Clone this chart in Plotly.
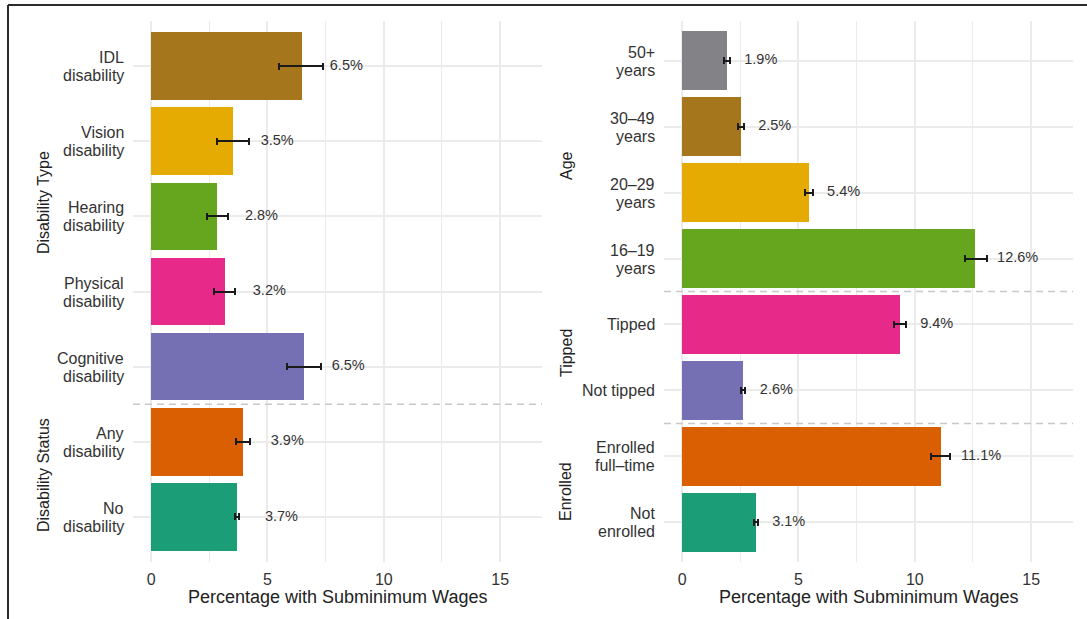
import plotly.graph_objects as go

# ---------------- data ----------------
left_cats = ["IDL<br>disability", "Vision<br>disability", "Hearing<br>disability",
             "Physical<br>disability", "Cognitive<br>disability",
             "Any<br>disability", "No<br>disability"]
left_vals = [6.49, 3.52, 2.84, 3.18, 6.57, 3.95, 3.70]
left_lo = [5.50, 2.84, 2.41, 2.71, 5.84, 3.65, 3.61]
left_hi = [7.39, 4.21, 3.31, 3.61, 7.31, 4.25, 3.79]
left_labels = ["6.5%", "3.5%", "2.8%", "3.2%", "6.5%", "3.9%", "3.7%"]
left_colors = ["#A6761D", "#E6AB02", "#66A61E", "#E7298A", "#7570B3", "#D95F02", "#1B9E77"]

right_cats = ["50+<br>years", "30\u201349<br>years", "20\u201329<br>years", "16\u201319<br>years",
              "Tipped", "Not tipped", "Enrolled<br>full\u2013time", "Not<br>enrolled"]
right_vals = [1.93, 2.53, 5.44, 12.60, 9.36, 2.62, 11.12, 3.18]
right_lo = [1.82, 2.42, 5.28, 12.17, 9.11, 2.55, 10.71, 3.08]
right_hi = [2.05, 2.65, 5.61, 13.09, 9.61, 2.72, 11.52, 3.25]
right_labels = ["1.9%", "2.5%", "5.4%", "12.6%", "9.4%", "2.6%", "11.1%", "3.1%"]
right_colors = ["#838387", "#A6761D", "#E6AB02", "#66A61E", "#E7298A", "#7570B3", "#D95F02", "#1B9E77"]

x_ticks = [0, 5, 10, 15]
x_title = "Percentage with Subminimum Wages"
left_groups = [("Disability Type", 0.672), ("Disability Status", 0.2326)]
right_groups = [("Age", 0.7318), ("Tipped", 0.4297), ("Enrolled", 0.2052)]
left_dividers = [4.5]
right_dividers = [3.5, 5.5]

# ---------------- layout constants ----------------
W, H = 1087, 619
FONT = "Liberation Sans, Arial, Helvetica, sans-serif"
GRID = "#EBEBEB"
TXT = "#333333"


def px_x(p):
    return p / W


def px_y(p):
    return 1 - p / H


fig = go.Figure()

panels = [
    (left_cats, left_vals, left_lo, left_hi, left_labels, left_colors, "x", "y", "left", 133),
    (right_cats, right_vals, right_lo, right_hi, right_labels, right_colors, "x2", "y2", "right", 664),
]
annotations = []
for cats, vals, lo, hi, labs, cols, xa, ya, side, plot_left in panels:
    fig.add_trace(go.Bar(
        x=vals, y=cats, orientation="h", width=0.9,
        marker=dict(color=cols, line=dict(width=0)),
        error_x=dict(type="data", symmetric=False,
                     array=[h - v for h, v in zip(hi, vals)],
                     arrayminus=[v - l for v, l in zip(vals, lo)],
                     color="#1a1a1a", thickness=2, width=3.5),
        xaxis=xa, yaxis=ya, showlegend=False, hoverinfo="skip"))
    if side == "left":
        lx = [v + 1.9 for v in vals]
    else:
        lx = [h + 1.33 for h in hi]
    fig.add_trace(go.Scatter(
        x=lx, y=cats, mode="text", text=labs,
        textfont=dict(family=FONT, size=14.5, color=TXT),
        textposition="middle center", cliponaxis=False,
        xaxis=xa, yaxis=ya, showlegend=False, hoverinfo="skip"))
    # category tick labels with tighter line spacing
    for i, c in enumerate(cats):
        lines = c.split("<br>")
        shifts = [0] if len(lines) == 1 else [8.5, -9.5]
        for ln, sh in zip(lines, shifts):
            annotations.append(dict(text=ln, xref="paper", x=px_x(plot_left - 8), yref=ya, y=i,
                                    yshift=sh, xanchor="right", yanchor="middle", showarrow=False,
                                    borderpad=0, font=dict(family=FONT, size=16, color=TXT)))

xrange = [-0.78, 16.8]
common_x = dict(range=xrange, tickvals=x_ticks, showgrid=True, gridcolor=GRID, gridwidth=1.6,
                zeroline=False, showline=False, ticks="", ticklabelstandoff=6,
                tickfont=dict(family=FONT, size=16, color=TXT),
                minor=dict(tickvals=[2.5, 7.5, 12.5], showgrid=True, gridcolor=GRID, gridwidth=1.2, ticks=""))
common_y = dict(type="category", showgrid=True, gridcolor=GRID, gridwidth=1.6,
                zeroline=False, showline=False, ticks="", showticklabels=False)

ytop, ybot = px_y(21), px_y(562)
fig.update_layout(
    width=W, height=H, margin=dict(l=0, r=0, t=0, b=0),
    paper_bgcolor="white", plot_bgcolor="white",
    bargap=0,
    xaxis=dict(domain=[px_x(133), px_x(542)], anchor="y", **common_x),
    xaxis2=dict(domain=[px_x(664), px_x(1073)], anchor="y2", **common_x),
    yaxis=dict(domain=[ybot, ytop], anchor="x", categoryorder="array", categoryarray=left_cats,
               range=[len(left_cats) - 0.4, -0.6], **common_y),
    yaxis2=dict(domain=[ybot, ytop], anchor="x2", categoryorder="array", categoryarray=right_cats,
                range=[len(right_cats) - 0.4, -0.6], **common_y),
)

for xa in ["x", "x2"]:
    annotations.append(dict(text=x_title, xref=xa + " domain", x=0.5, yref="paper", y=px_y(597),
                            xanchor="center", yanchor="middle", showarrow=False,
                            font=dict(family=FONT, size=18, color="#222222")))
for name, yp in left_groups:
    annotations.append(dict(text=name, xref="paper", x=px_x(43), yref="paper", y=yp, textangle=-90,
                            xanchor="center", yanchor="middle", showarrow=False,
                            font=dict(family=FONT, size=16, color="#222222")))
for name, yp in right_groups:
    annotations.append(dict(text=name, xref="paper", x=px_x(566), yref="paper", y=yp, textangle=-90,
                            xanchor="center", yanchor="middle", showarrow=False,
                            font=dict(family=FONT, size=16, color="#222222")))
fig.update_layout(annotations=annotations)

shapes = []
for yv in left_dividers:
    shapes.append(dict(type="line", xref="x domain", x0=0, x1=1, yref="y", y0=yv, y1=yv,
                       line=dict(color="#C8C8C8", width=1.5, dash="7px,5px")))
for yv in right_dividers:
    shapes.append(dict(type="line", xref="x2 domain", x0=0, x1=1, yref="y2", y0=yv, y1=yv,
                       line=dict(color="#C8C8C8", width=1.5, dash="7px,5px")))
# outer frame (top and left edges)
shapes.append(dict(type="line", xref="paper", yref="paper", x0=px_x(8), x1=1, y0=px_y(5), y1=px_y(5),
                   line=dict(color="#2b2b2b", width=2)))
shapes.append(dict(type="line", xref="paper", yref="paper", x0=px_x(8), x1=px_x(8), y0=0, y1=px_y(5),
                   line=dict(color="#2b2b2b", width=2)))
fig.update_layout(shapes=shapes)

fig.write_html("out.html")
